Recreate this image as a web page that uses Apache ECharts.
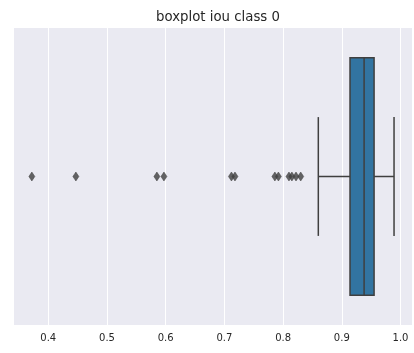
<!DOCTYPE html>
<html>
<head>
<meta charset="utf-8">
<script src="https://cdn.jsdelivr.net/npm/echarts@6/dist/echarts.min.js"></script>
<style>html,body{margin:0;padding:0;background:#fff;}#c{width:414px;height:353px;}</style>
</head>
<body>
<div id="c"></div>
<script>
const titleText = 'boxplot iou class 0';
const categories = ['iou class 0'];
// [whisker low, Q1, median, Q3, whisker high]
const boxStats = [0.860, 0.914, 0.938, 0.955, 0.989];
const outliers = [0.372, 0.447, 0.585, 0.597, 0.712, 0.718, 0.786, 0.792, 0.810, 0.815, 0.822, 0.830];
const xMin = 0.3416;
const xMax = 1.0196;

const chart = echarts.init(document.getElementById('c'), null, {renderer: 'canvas'});
const lineColor = '#3f3f3f';
const option = {
  animation: false,
  backgroundColor: '#ffffff',
  title: {
    text: titleText,
    left: 213, top: 6, textAlign: 'center',
    textStyle: {fontFamily: 'DejaVu Sans', fontSize: 13.3, fontWeight: 'normal', color: '#262626'}
  },
  grid: {left: 14, right: 2, top: 28, bottom: 28, show: true, backgroundColor: '#EAEAF2', borderWidth: 0},
  xAxis: {
    type: 'value', min: xMin, max: xMax,
    axisLine: {show: false}, axisTick: {show: false},
    splitLine: {show: true, showMinLine: false, showMaxLine: false, lineStyle: {color: '#ffffff', width: 1}},
    axisLabel: {
      color: '#262626', fontFamily: 'DejaVu Sans', fontSize: 10, margin: 8,
      showMinLabel: false, showMaxLabel: false,
      formatter: v => (Math.abs(v * 10 - Math.round(v * 10)) < 1e-6 ? v.toFixed(1) : '')
    }
  },
  yAxis: {
    type: 'category', data: categories,
    axisLine: {show: false}, axisTick: {show: false}, axisLabel: {show: false}, splitLine: {show: false}
  },
  series: [
    {
      type: 'custom',
      data: [[...boxStats, 0]],
      encode: {x: [0, 1, 2, 3, 4], y: 5},
      renderItem: function (params, api) {
        const yi = api.value(5);
        const pLow = api.coord([api.value(0), yi]);
        const pQ1 = api.coord([api.value(1), yi]);
        const pMed = api.coord([api.value(2), yi]);
        const pQ3 = api.coord([api.value(3), yi]);
        const pHigh = api.coord([api.value(4), yi]);
        const band = api.size([0, 1])[1];
        const h = band * 0.8, cap = band * 0.4;
        const cy = pMed[1];
        const ls = {stroke: lineColor, lineWidth: 1.5};
        return {
          type: 'group',
          children: [
            {type: 'line', shape: {x1: pLow[0], y1: cy, x2: pQ1[0], y2: cy}, style: ls},
            {type: 'line', shape: {x1: pQ3[0], y1: cy, x2: pHigh[0], y2: cy}, style: ls},
            {type: 'line', shape: {x1: pLow[0], y1: cy - cap / 2, x2: pLow[0], y2: cy + cap / 2}, style: ls},
            {type: 'line', shape: {x1: pHigh[0], y1: cy - cap / 2, x2: pHigh[0], y2: cy + cap / 2}, style: ls},
            {type: 'rect', shape: {x: pQ1[0], y: cy - h / 2, width: pQ3[0] - pQ1[0], height: h},
             style: {fill: '#3274A1', stroke: lineColor, lineWidth: 1.5}},
            {type: 'line', shape: {x1: pMed[0], y1: cy - h / 2, x2: pMed[0], y2: cy + h / 2}, style: ls}
          ]
        };
      }
    },
    {
      type: 'scatter',
      data: outliers.map(v => [v, 0]),
      symbol: 'diamond',
      symbolSize: [6, 9],
      itemStyle: {color: lineColor, borderColor: lineColor, borderWidth: 0.6}
    }
  ]
};
chart.setOption(option);
</script>
</body>
</html>
